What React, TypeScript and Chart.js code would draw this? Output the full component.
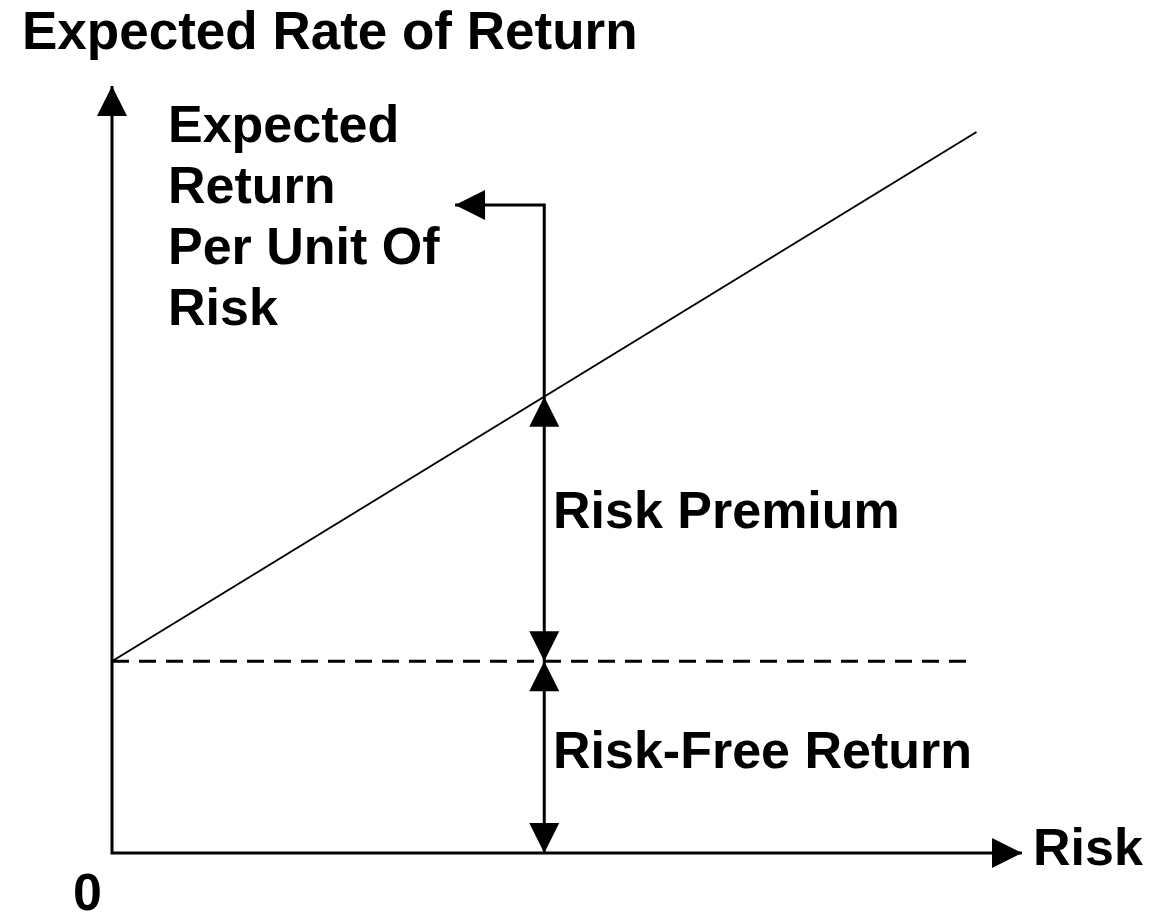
import React, { useEffect, useRef } from "react";
import { Chart, registerables } from "chart.js";

Chart.register(...registerables);

// ---- data (chart units) ----
const axisMax = 10;
const riskFreeRate = 2.5;
const marketRisk = 4.75;
const marketReturn = 5.95;
const smlX = [0, 9.5];
const smlY = [2.5, 9.4];
const riskFreeLineX = [0, 9.43];
const connectorTopY = 8.45;
const connectorEndX = 3.77;

// ---- text ----
const titleText = "Expected Rate of Return";
const xAxisLabel = "Risk";
const originLabel = "0";
const sideLabelLines = ["Expected", "Return", "Per Unit Of", "Risk"];
const premiumLabel = "Risk Premium";
const riskFreeLabel = "Risk-Free Return";

const FONT = "'Liberation Sans', Arial, sans-serif";

const arrowPlugin = {
  id: "arrowheads",
  afterDatasetsDraw(chart: any) {
    const ctx = chart.ctx;
    chart.data.datasets.forEach((ds: any, i: number) => {
      const meta = chart.getDatasetMeta(i);
      const pts = meta.data;
      if (!pts || pts.length < 2) return;
      const len = ds.arrowLength ?? 30;
      const half = ds.arrowHalfWidth ?? 15;
      const draw = (tip: any, from: any) => {
        const dx = tip.x - from.x;
        const dy = tip.y - from.y;
        const d = Math.hypot(dx, dy) || 1;
        const ux = dx / d;
        const uy = dy / d;
        const bx = tip.x - ux * len;
        const by = tip.y - uy * len;
        ctx.save();
        ctx.fillStyle = "#000";
        ctx.beginPath();
        ctx.moveTo(tip.x, tip.y);
        ctx.lineTo(bx - uy * half, by + ux * half);
        ctx.lineTo(bx + uy * half, by - ux * half);
        ctx.closePath();
        ctx.fill();
        ctx.restore();
      };
      if (ds.arrowEnd) draw(pts[pts.length - 1], pts[pts.length - 2]);
      if (ds.arrowStart) draw(pts[0], pts[1]);
    });
  },
  afterDraw(chart: any) {
    const ctx = chart.ctx;
    ctx.save();
    ctx.fillStyle = "#000";
    ctx.textBaseline = "alphabetic";
    ctx.textAlign = "left";
    ctx.font = `bold 53px ${FONT}`;
    ctx.fillText(titleText, 22, 49);
    ctx.font = `bold 52px ${FONT}`;
    sideLabelLines.forEach((t, i) => ctx.fillText(t, 168, 142 + i * 61));
    ctx.fillText(premiumLabel, 553, 528);
    ctx.fillText(riskFreeLabel, 553, 768);
    ctx.fillText(xAxisLabel, 1033, 865);
    ctx.fillText(originLabel, 73, 910);
    ctx.restore();
  },
};

export default function App() {
  const ref = useRef<HTMLCanvasElement | null>(null);
  useEffect(() => {
    if (!ref.current) return;
    const base = {
      showLine: true,
      pointRadius: 0,
      pointHoverRadius: 0,
      borderColor: "#000",
      backgroundColor: "#000",
      fill: false,
      tension: 0,
      clip: false,
    };
    const chart = new Chart(ref.current, {
      type: "scatter",
      data: {
        datasets: [
          {
            ...base,
            label: "axes",
            data: [
              { x: 0, y: axisMax },
              { x: 0, y: 0 },
              { x: axisMax, y: 0 },
            ],
            borderWidth: 3,
            borderJoinStyle: "miter",
            arrowStart: true,
            arrowEnd: true,
          } as any,
          {
            ...base,
            label: "Security Market Line",
            data: smlX.map((x, i) => ({ x, y: smlY[i] })),
            borderWidth: 2,
          } as any,
          {
            ...base,
            label: "risk-free level",
            data: riskFreeLineX.map((x) => ({ x, y: riskFreeRate })),
            borderWidth: 3,
            borderDash: [17, 10],
          } as any,
          {
            ...base,
            label: "risk-free span",
            data: [
              { x: marketRisk, y: 0 },
              { x: marketRisk, y: riskFreeRate },
            ],
            borderWidth: 3,
            arrowStart: true,
            arrowEnd: true,
          } as any,
          {
            ...base,
            label: "premium span",
            data: [
              { x: marketRisk, y: riskFreeRate },
              { x: marketRisk, y: marketReturn },
            ],
            borderWidth: 3,
            arrowStart: true,
            arrowEnd: true,
          } as any,
          {
            ...base,
            label: "connector",
            data: [
              { x: marketRisk, y: marketReturn },
              { x: marketRisk, y: connectorTopY },
              { x: connectorEndX, y: connectorTopY },
            ],
            borderWidth: 3,
            borderJoinStyle: "miter",
            arrowEnd: true,
          } as any,
        ],
      },
      options: {
        responsive: false,
        animation: false,
        devicePixelRatio: 1,
        layout: { padding: { left: 112, right: 136, top: 86, bottom: 60 } },
        scales: {
          x: { type: "linear", min: 0, max: axisMax, display: false },
          y: { type: "linear", min: 0, max: axisMax, display: false },
        },
        plugins: {
          legend: { display: false },
          tooltip: { enabled: false },
        },
        events: [],
      },
      plugins: [arrowPlugin],
    } as any);
    return () => chart.destroy();
  }, []);
  return (
    <div
      style={{
        position: "fixed",
        left: 0,
        top: 0,
        width: 1158,
        height: 913,
        background: "#fff",
      }}
    >
      <canvas ref={ref} width={1158} height={913} style={{ width: 1158, height: 913, display: "block" }} />
    </div>
  );
}
